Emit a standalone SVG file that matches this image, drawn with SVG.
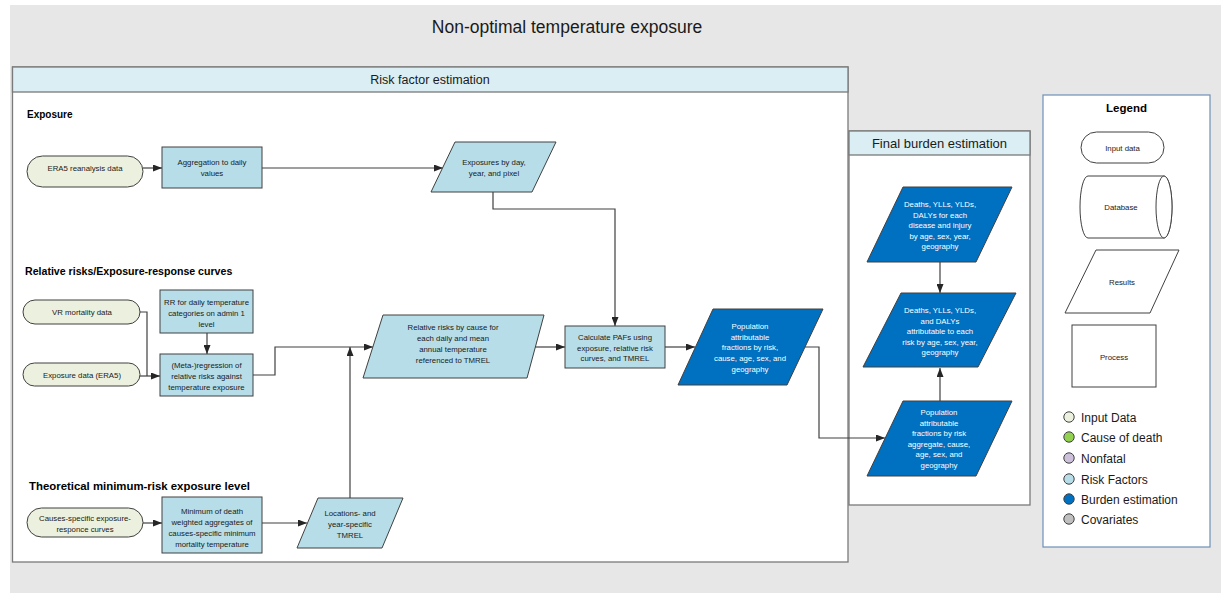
<svg xmlns="http://www.w3.org/2000/svg" width="1221" height="593" viewBox="0 0 1221 593">
<defs>
<style>
.bg{fill:#E7E7E7}
.frame{fill:#FFFFFF;stroke:#7A7A7A;stroke-width:1.3}
.hdr{fill:#DAEEF3;stroke:#7A7A7A;stroke-width:1.3}
.inp{fill:#EBF1DE;stroke:#404040;stroke-width:1}
.rf{fill:#B7DEE8;stroke:#404040;stroke-width:1}
.be{fill:#0070C0;stroke:#404040;stroke-width:1}
.lg{fill:#FFFFFF;stroke:#404040;stroke-width:1}
.t{font-family:"Liberation Sans",Arial,sans-serif;font-size:7.8px;fill:#1A1A1A;text-anchor:middle}
.tw{font-family:"Liberation Sans",Arial,sans-serif;font-size:7.8px;fill:#FFFFFF;text-anchor:middle}
.sec{font-family:"Liberation Sans",Arial,sans-serif;font-weight:bold;fill:#000000}
.h{font-family:"Liberation Sans",Arial,sans-serif;fill:#1A1A1A;text-anchor:middle}
.li{font-family:"Liberation Sans",Arial,sans-serif;font-size:12px;fill:#1A1A1A}
.c{fill:none;stroke:#404040;stroke-width:1.2}
.ca{fill:none;stroke:#404040;stroke-width:1.2;marker-end:url(#arr)}
</style>
<marker id="arr" markerWidth="9" markerHeight="7" refX="9" refY="3.5" orient="auto" markerUnits="userSpaceOnUse">
<path d="M0,0 L9,3.5 L0,7 Z" fill="#262626"/>
</marker>
</defs>

<rect class="bg" x="10" y="5" width="1211" height="588"/>
<text class="h" x="567" y="33" font-size="17.5">Non-optimal temperature exposure</text>

<g id="risk-factor-frame">
<rect class="frame" x="12.5" y="67" width="835.5" height="495"/>
<rect class="hdr" x="12.5" y="67" width="835.5" height="25"/>
<text class="h" x="430" y="83.5" font-size="12.5">Risk factor estimation</text>
</g>

<g id="final-burden-frame">
<rect class="frame" x="849" y="131" width="181" height="374"/>
<rect class="hdr" x="849" y="131" width="181" height="24"/>
<text class="h" x="939.5" y="147.5" font-size="13">Final burden estimation</text>
</g>

<text class="sec" x="27" y="118" font-size="10">Exposure</text>
<text class="sec" x="25" y="275" font-size="10.6">Relative risks/Exposure-response curves</text>
<text class="sec" x="29" y="490" font-size="11.4">Theoretical minimum-risk exposure level</text>

<g id="connectors">
<path class="ca" d="M143,168 H162"/>
<path class="ca" d="M262,168 H443"/>
<path class="ca" d="M493,192 V209 H615 V326"/>
<path class="c" d="M140,312 H147 V376"/>
<path class="ca" d="M140,376 H160"/>
<path class="ca" d="M207,333 V354"/>
<path class="ca" d="M253,375 H275 V347 H373"/>
<path class="ca" d="M350,498 V347"/>
<path class="ca" d="M535,347 H565"/>
<path class="ca" d="M665,347 H695"/>
<path class="ca" d="M805,347 H819 V438 H885"/>
<path class="ca" d="M143,523 H162"/>
<path class="ca" d="M262,523 H307"/>
<path class="ca" d="M940,262 V293"/>
<path class="ca" d="M940,401 V368"/>
</g>

<g id="era5-reanalysis">
<rect class="inp" x="27" y="156" width="116" height="31" rx="15.5"/>
<text class="t" x="85" y="171">ERA5 reanalysis data</text>
</g>
<g id="aggregation">
<rect class="rf" x="162" y="147" width="100" height="41"/>
<text class="t" x="212" y="165">Aggregation to daily</text>
<text class="t" x="212" y="176">values</text>
</g>
<g id="exposures-by-day">
<polygon class="rf" points="455,142 556,142 532,192 431,192"/>
<text class="t" x="494" y="165">Exposures by day,</text>
<text class="t" x="494" y="176">year, and pixel</text>
</g>

<g id="vr-mortality">
<rect class="inp" x="23" y="300" width="117" height="24" rx="12"/>
<text class="t" x="82" y="315">VR mortality data</text>
</g>
<g id="exposure-data">
<rect class="inp" x="23" y="363" width="117" height="23" rx="11.5"/>
<text class="t" x="82" y="377.5">Exposure data (ERA5)</text>
</g>
<g id="rr-daily">
<rect class="rf" x="160" y="290" width="93" height="43"/>
<text class="t" x="206.5" y="305">RR for daily temperature</text>
<text class="t" x="206.5" y="316">categories on admin 1</text>
<text class="t" x="206.5" y="327">level</text>
</g>
<g id="meta-regression">
<rect class="rf" x="160" y="354" width="93" height="42"/>
<text class="t" x="206.5" y="368">(Meta-)regression of</text>
<text class="t" x="206.5" y="379">relative risks against</text>
<text class="t" x="206.5" y="390">temperature exposure</text>
</g>
<g id="relative-risks">
<polygon class="rf" points="383,315 544,315 527,378 363,378"/>
<text class="t" x="453" y="330">Relative risks by cause for</text>
<text class="t" x="453" y="341">each daily and mean</text>
<text class="t" x="453" y="352">annual temperature</text>
<text class="t" x="453" y="363">referenced to TMREL</text>
</g>
<g id="calculate-pafs">
<rect class="rf" x="565" y="326" width="100" height="42"/>
<text class="t" x="615" y="340">Calculate PAFs using</text>
<text class="t" x="615" y="350.5">exposure, relative risk</text>
<text class="t" x="615" y="361">curves, and TMREL</text>
</g>
<g id="pafs">
<polygon class="be" points="713,309 823,309 787,385 678,385"/>
<text class="tw" x="750" y="329">Population</text>
<text class="tw" x="750" y="339.5">attributable</text>
<text class="tw" x="750" y="350">fractions by risk,</text>
<text class="tw" x="750" y="361">cause, age, sex, and</text>
<text class="tw" x="750" y="371.5">geography</text>
</g>

<g id="causes-specific">
<rect class="inp" x="27" y="508" width="116" height="29" rx="14.5"/>
<text class="t" x="85" y="521">Causes-specific exposure-</text>
<text class="t" x="85" y="532">responce curves</text>
</g>
<g id="minimum-death-weighted">
<rect class="rf" x="162" y="497" width="100" height="56"/>
<text class="t" x="212" y="514">Minimum of death</text>
<text class="t" x="212" y="525">weighted aggregates of</text>
<text class="t" x="212" y="536">causes-specific minimum</text>
<text class="t" x="212" y="547">mortality temperature</text>
</g>
<g id="tmrel">
<polygon class="rf" points="318,498 403,498 382,548 297,548"/>
<text class="t" x="350" y="516">Locations- and</text>
<text class="t" x="350" y="527">year-specific</text>
<text class="t" x="350" y="538">TMREL</text>
</g>

<g id="deaths-by-disease">
<polygon class="be" points="903,187 1012,187 976,262 867,262"/>
<text class="tw" x="940" y="207">Deaths, YLLs, YLDs,</text>
<text class="tw" x="940" y="217.5">DALYs for each</text>
<text class="tw" x="940" y="228">disease and injury</text>
<text class="tw" x="940" y="238.5">by age, sex, year,</text>
<text class="tw" x="940" y="249">geography</text>
</g>
<g id="deaths-attributable">
<polygon class="be" points="901,293 1016,293 978,367 863,367"/>
<text class="tw" x="940" y="313">Deaths, YLLs, YLDs,</text>
<text class="tw" x="940" y="323.5">and DALYs</text>
<text class="tw" x="940" y="334">attributable to each</text>
<text class="tw" x="940" y="344.5">risk by age, sex, year,</text>
<text class="tw" x="940" y="355">geography</text>
</g>
<g id="pafs-aggregate">
<polygon class="be" points="903,401 1012,401 976,476 867,476"/>
<text class="tw" x="939" y="415">Population</text>
<text class="tw" x="939" y="425.5">attributable</text>
<text class="tw" x="939" y="436">fractions by risk</text>
<text class="tw" x="939" y="446.5">aggregate, cause,</text>
<text class="tw" x="939" y="457">age, sex, and</text>
<text class="tw" x="939" y="467.5">geography</text>
</g>

<g id="legend">
<rect x="1043" y="95" width="167" height="452" fill="#FFFFFF" stroke="#6F8FB8" stroke-width="1.2"/>
<text class="sec" x="1126.5" y="112" font-size="11.5" text-anchor="middle">Legend</text>
<rect class="lg" x="1081" y="132" width="83" height="31" rx="15.5"/>
<text class="t" x="1122.5" y="150.5">Input data</text>
<path class="lg" d="M1088,176 H1164 A8,31 0 0 1 1164,238 H1088 A8,31 0 0 1 1088,176 Z"/>
<ellipse class="lg" cx="1164" cy="207" rx="8" ry="31"/>
<text class="t" x="1121" y="210">Database</text>
<polygon class="lg" points="1096,250 1179,250 1150,313 1065,313"/>
<text class="t" x="1122" y="285">Results</text>
<rect class="lg" x="1072" y="325" width="84" height="62"/>
<text class="t" x="1114" y="360">Process</text>
<circle cx="1069" cy="417" r="5.2" fill="#EBF1DE" stroke="#404040"/>
<text class="li" x="1081" y="421.5">Input Data</text>
<circle cx="1069" cy="437" r="5.2" fill="#92D050" stroke="#404040"/>
<text class="li" x="1081" y="441.5">Cause of death</text>
<circle cx="1069" cy="458" r="5.2" fill="#CCC0DA" stroke="#404040"/>
<text class="li" x="1081" y="462.5">Nonfatal</text>
<circle cx="1069" cy="479" r="5.2" fill="#B7DEE8" stroke="#404040"/>
<text class="li" x="1081" y="483.5">Risk Factors</text>
<circle cx="1069" cy="499" r="5.2" fill="#0070C0" stroke="#404040"/>
<text class="li" x="1081" y="503.5">Burden estimation</text>
<circle cx="1069" cy="519" r="5.2" fill="#BFBFBF" stroke="#404040"/>
<text class="li" x="1081" y="523.5">Covariates</text>
</g>
</svg>
